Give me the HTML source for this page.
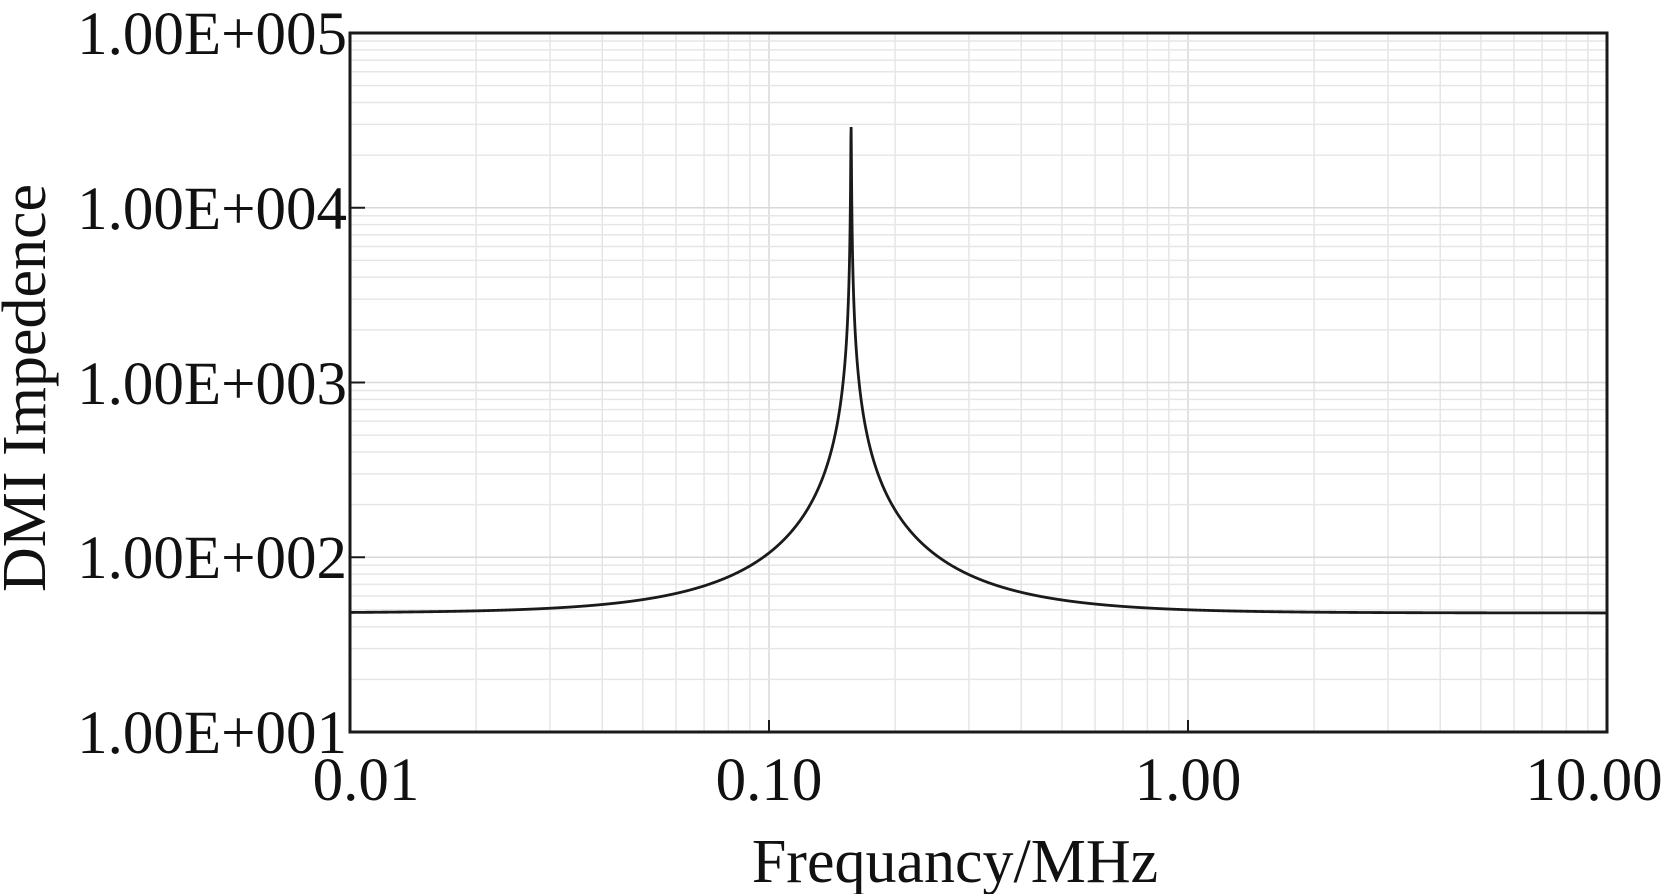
<!DOCTYPE html>
<html><head><style>body{margin:0;background:#fff}svg{display:block}text{font-family:"Liberation Serif",serif;fill:#111}</style></head>
<body>
<svg id="s" width="1664" height="894" xmlns="http://www.w3.org/2000/svg">
<g id="grid"></g>
<path id="curve" fill="none" stroke="#1a1a1a" stroke-width="2.8"/>
<rect x="350" y="33" width="1257" height="699" fill="none" stroke="#1a1a1a" stroke-width="3"/>
<g id="ticks" stroke="#1a1a1a" stroke-width="2"></g>
<g font-size="61" text-anchor="end">
<text x="347" y="54">1.00E+005</text>
<text x="347" y="229">1.00E+004</text>
<text x="347" y="404">1.00E+003</text>
<text x="347" y="578">1.00E+002</text>
<text x="347" y="753">1.00E+001</text>
</g>
<g font-size="61" text-anchor="middle">
<text x="366" y="800">0.01</text>
<text x="769" y="800">0.10</text>
<text x="1188" y="800">1.00</text>
<text x="1594" y="800">10.00</text>
</g>
<text x="955" y="882" font-size="62" text-anchor="middle">Frequancy/MHz</text>
<text transform="translate(45,388) rotate(-90)" font-size="62" text-anchor="middle">DMI Impedence</text>
</svg>
<script>
const L=350,T=33,W=1257,H=699;
const X=f=>L+(Math.log10(f)+2)*W/3, Y=z=>T+(5-Math.log10(z))*H/4;
let g=document.getElementById('grid'),tk=document.getElementById('ticks'),h='',t='';
for(let d=-2;d<1;d++)for(let k=1;k<10;k++){if(d==-2&&k==1)continue;let x=X(k*Math.pow(10,d));h+=`<line x1="${x}" y1="${T}" x2="${x}" y2="${T+H}" stroke="${k==1?'#d8d8d8':'#e6e6e6'}" stroke-width="1.5"/>`;if(k==1)t+=`<line x1="${x}" y1="${T+H}" x2="${x}" y2="${T+H-12}"/>`;}
for(let d=1;d<5;d++)for(let k=1;k<10;k++){if(d==1&&k==1)continue;let y=Y(k*Math.pow(10,d));h+=`<line x1="${L}" y1="${y}" x2="${L+W}" y2="${y}" stroke="${k==1?'#d8d8d8':'#e6e6e6'}" stroke-width="1.5"/>`;if(k==1)t+=`<line x1="${L}" y1="${y}" x2="${L+15}" y2="${y}"/>`;}
g.innerHTML=h;tk.innerHTML=t;
const f0=0.157,R=48,c=88,dmp=0.003;
let p='';
for(let i=0;i<=6000;i++){let f=Math.pow(10,-2+3*i/6000);let r=f/f0;let Xr=c*r/Math.sqrt((1-r*r)**2+(dmp*r)**2);let z=Math.sqrt(R*R+Xr*Xr);p+=(i?'L':'M')+X(f).toFixed(2)+' '+Y(z).toFixed(2);}
document.getElementById('curve').setAttribute('d',p);
</script>
</body></html>
